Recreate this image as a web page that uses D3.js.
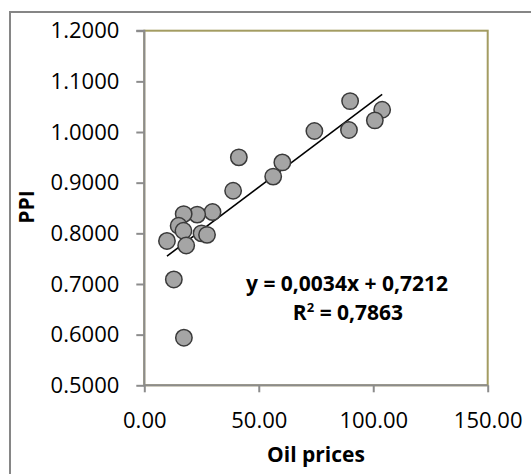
<!DOCTYPE html>
<html lang="en">
<head>
    <meta charset="UTF-8">
    <title>PPI vs Oil prices</title>
    <script src="https://d3js.org/d3.v7.min.js"></script>
    <style>
        html, body { margin: 0; padding: 0; background: #fff; }
        body { font-family: "Open Sans", Calibri, sans-serif; }
        .axis path, .axis line { stroke: #8c8c8c; stroke-width: 2; }
        .axis text { fill: #000; font-size: 22px; font-family: "Open Sans", sans-serif; }
        .label { font-weight: bold; font-size: 21px; fill: #000; }
    </style>
</head>
<body>
    <script>
        // Data: oil price (x) vs PPI (y)
        const oilPrices = [89.9, 103.9, 100.7, 89.4, 74.3, 41.3, 60.3, 56.3, 38.8, 29.8,
                           23.1, 17.2, 15.0, 17.1, 9.9, 18.3, 25.0, 27.4, 12.9, 17.3];
        const ppiValues = [1.061, 1.044, 1.023, 1.004, 1.002, 0.950, 0.940, 0.912, 0.884, 0.842,
                           0.837, 0.838, 0.815, 0.805, 0.785, 0.776, 0.800, 0.797, 0.709, 0.594];
        const xTicks = [0, 50, 100, 150];
        const yTicks = [0.5, 0.6, 0.7, 0.8, 0.9, 1.0, 1.1, 1.2];
        const trendSlope = 0.0034, trendIntercept = 0.7212, rSquared = 0.7863;

        const W = 531, H = 474;
        const plot = {left: 144.3, right: 487.7, top: 30.7, bottom: 385.3};

        const svg = d3.select('body').append('svg')
            .attr('width', W)
            .attr('height', H);

        // outer chart frame (runs past the right and bottom edges)
        svg.append('rect')
            .attr('x', 10).attr('y', 12)
            .attr('width', 560).attr('height', 500)
            .attr('fill', 'none')
            .attr('stroke', '#868686')
            .attr('stroke-width', 2);

        const x = d3.scaleLinear().domain([0, 150]).range([plot.left, plot.right]);
        const y = d3.scaleLinear().domain([0.5, 1.2]).range([plot.bottom, plot.top]);

        // plot area border
        svg.append('rect')
            .attr('x', plot.left).attr('y', plot.top)
            .attr('width', plot.right - plot.left)
            .attr('height', plot.bottom - plot.top)
            .attr('fill', 'none')
            .attr('stroke', '#a39c62')
            .attr('stroke-width', 2);

        // axes
        svg.append('g')
            .attr('class', 'axis')
            .attr('transform', `translate(${plot.left},0)`)
            .call(d3.axisLeft(y).tickValues(yTicks).tickSize(8).tickPadding(17)
                .tickFormat(d3.format('.4f')))
            .call(g => g.select('.domain').attr('d', `M-8,${plot.top}H0V${plot.bottom}`));

        svg.append('g')
            .attr('class', 'axis')
            .attr('transform', `translate(0,${plot.bottom})`)
            .call(d3.axisBottom(x).tickValues(xTicks).tickSize(7).tickPadding(20)
                .tickFormat(d3.format('.2f')))
            .call(g => g.select('.domain').attr('d', `M${plot.left},0H${plot.right}`));

        // trend line across the data range
        const xr = d3.extent(oilPrices);
        svg.append('line')
            .attr('x1', x(xr[0])).attr('y1', y(trendIntercept + trendSlope * xr[0]))
            .attr('x2', x(xr[1])).attr('y2', y(trendIntercept + trendSlope * xr[1]))
            .attr('stroke', '#000')
            .attr('stroke-width', 1.5);

        // points
        svg.append('g').selectAll('circle')
            .data(oilPrices.map((v, i) => [v, ppiValues[i]]))
            .enter().append('circle')
            .attr('cx', d => x(d[0]))
            .attr('cy', d => y(d[1]))
            .attr('r', 8.2)
            .attr('fill', '#a5a5a5')
            .attr('stroke', '#3a3a3a')
            .attr('stroke-width', 1.5);

        // equation text
        const comma = v => d3.format('.4f')(v).replace('.', ',');
        svg.append('text').attr('class', 'label')
            .attr('text-anchor', 'middle')
            .attr('x', 347).attr('y', 291)
            .text(`y = ${comma(trendSlope)}x + ${comma(trendIntercept)}`);
        const r2 = svg.append('text').attr('class', 'label')
            .attr('text-anchor', 'middle')
            .attr('x', 348).attr('y', 320);
        r2.append('tspan').text('R');
        r2.append('tspan').attr('dy', -8).attr('font-size', 13).text('2');
        r2.append('tspan').attr('dy', 8).text(` = ${comma(rSquared)}`);

        // axis titles
        svg.append('text').attr('class', 'label')
            .attr('text-anchor', 'middle')
            .attr('transform', 'translate(34,207) rotate(-90)')
            .text('PPI');
        svg.append('text').attr('class', 'label')
            .attr('text-anchor', 'middle')
            .attr('x', 316).attr('y', 462)
            .text('Oil prices');
    </script>
</body>
</html>
